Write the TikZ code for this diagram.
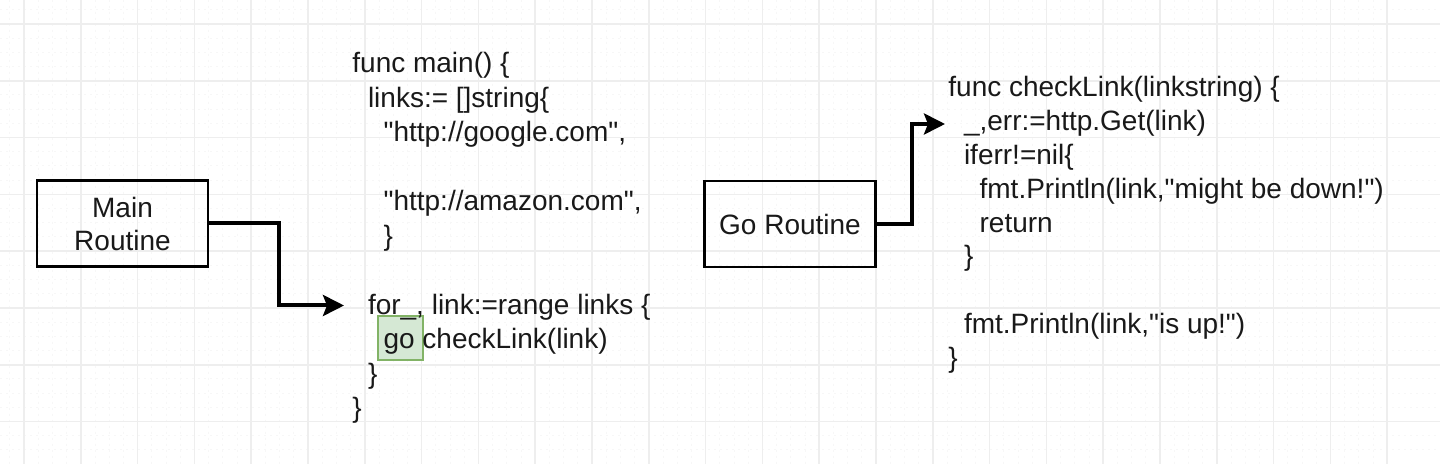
\documentclass[tikz,border=0pt]{standalone}
\usepackage{fontspec}
\setmainfont{Liberation Sans}[Ligatures=TeXOff]
\usetikzlibrary{arrows.meta}
\definecolor{gofill}{HTML}{D5E8D4}
\definecolor{goline}{HTML}{82B366}
\definecolor{gridc}{HTML}{EEEEEE}
\definecolor{gridm}{HTML}{F7F7F7}
\begin{document}
\begin{tikzpicture}[x=0.5pt,y=-0.5pt,
  every node/.style={font=\fontsize{14}{16.5}\selectfont, text=black!90},
  routine/.style={draw, line width=1.4pt, minimum width=85.5pt, minimum height=43pt, align=center, inner sep=0pt},
  codeline/.style={anchor=base west, inner sep=0pt},
  conn/.style={line width=2pt, -{Stealth[length=10.5pt,width=10.5pt,inset=2pt]}},
  gobox/.style={draw=goline, fill=gofill, line width=0.8pt, minimum width=22.5pt, minimum height=22pt, inner sep=0pt, anchor=north west}]
% background and grid
\fill[white] (0,0) rectangle (1440,464);
\useasboundingbox (0,0) rectangle (1440,464);
\foreach \k in {0,...,100} {
  \pgfmathsetmacro{\gx}{24+\k*14.2-56.8}
  \draw[gridm, line width=0.5pt, dash pattern=on 1pt off 2pt] (\gx,0) -- (\gx,464);
}
\foreach \k in {0,...,36} {
  \pgfmathsetmacro{\gy}{24+\k*14.2-56.8}
  \draw[gridm, line width=0.5pt, dash pattern=on 1pt off 2pt] (0,\gy) -- (1440,\gy);
}
\foreach \k in {0,...,24} {
  \pgfmathsetmacro{\gx}{24+\k*56.8}
  \draw[gridc, line width=0.8pt] (\gx,0) -- (\gx,464);
}
\foreach \k in {0,...,7} {
  \pgfmathsetmacro{\gy}{24+\k*56.8}
  \draw[gridc, line width=0.8pt] (0,\gy) -- (1440,\gy);
}
% boxes
\node[routine] (main) at (122.5,223.5) {Main\\Routine};
\node[routine] (go) at (790,224) {Go Routine};
% highlight of go
\node[gobox] (gohl) at (377,315) {};
% left code
\node[codeline] (l1) at (352,73) {func main() \{};
\node[codeline] (l2) at (367.6,107.5) {links:= []string\{};
\node[codeline] (l3) at (383.2,142) {"http://google.com",};
\node[codeline] (l4) at (383.2,211) {"http://amazon.com",};
\node[codeline] (l5) at (383.2,245.5) {\}};
\node[codeline] (l6) at (367.6,314.5) {for\_, link:=range links \{};
\node[codeline] (l7) at (383.2,349) {go checkLink(link)};
\node[codeline] (l8) at (367.6,383.5) {\}};
\node[codeline] (l9) at (352,418) {\}};
% right code
\node[codeline] (r1) at (948,97) {func checkLink(linkstring) \{};
\node[codeline] (r2) at (963.6,130.8) {\_,err:=http.Get(link)};
\node[codeline] (r3) at (963.6,164.6) {iferr!=nil\{};
\node[codeline] (r4) at (979.2,198.4) {fmt.Println(link,"might be down!")};
\node[codeline] (r5) at (979.2,232.2) {return};
\node[codeline] (r6) at (963.6,266) {\}};
\node[codeline] (r7) at (963.6,333.6) {fmt.Println(link,"is up!")};
\node[codeline] (r8) at (948,367.4) {\}};
% connectors
\coordinate (t1) at (344,305.5);
\coordinate (t2) at (945,124);
\draw[conn] (main.east) -- (279,223.5) |- (t1);
\draw[conn] (go.east) -- (912,224) |- (t2);
\end{tikzpicture}
\end{document}
